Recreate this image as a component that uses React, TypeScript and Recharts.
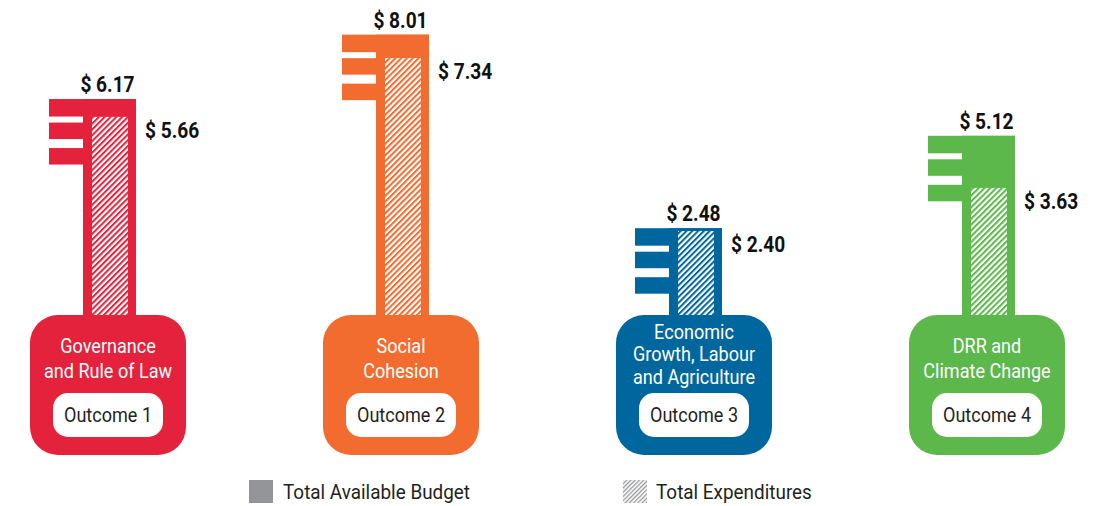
import React from 'react';
import { BarChart, Bar, XAxis, YAxis, LabelList, Legend } from 'recharts';

const outcomes = ['Outcome 1', 'Outcome 2', 'Outcome 3', 'Outcome 4'];
const themeLines = [
  ['Governance', 'and Rule of Law'],
  ['Social', 'Cohesion'],
  ['Economic', 'Growth, Labour', 'and Agriculture'],
  ['DRR and', 'Climate Change'],
];
const totalBudget = [6.17, 8.01, 2.48, 5.12];
const totalExpenditures = [5.66, 7.34, 2.4, 3.63];
const keyColors = ['#e4223c', '#f36c2f', '#00679e', '#5cb84a'];
const legendLabels = ['Total Available Budget', 'Total Expenditures'];

const data = outcomes.map((name, i) => ({
  name,
  lines: themeLines[i],
  budget: totalBudget[i],
  spent: totalExpenditures[i],
  color: keyColors[i],
}));

const FONT = 'Roboto, sans-serif';

const CText = ({ x, y, anchor = 'middle', size = 21, weight = 400, fill = '#fff', sx = 0.86, children }: any) => (
  <text
    transform={`translate(${x},${y}) scale(${sx},1)`}
    textAnchor={anchor}
    fontSize={size}
    fontWeight={weight}
    fill={fill}
    fontFamily={FONT}
  >
    {children}
  </text>
);

// solid bar drawn as a key: teeth on top, shaft, rounded head at the baseline
const KeyShape = (props: any) => {
  const { x, y, width, height, payload } = props;
  const c = payload.color;
  const base = y + height;
  const cx = x + width / 2 - 1.5;
  const toothW = 34;
  const lines: string[] = payload.lines;
  const lh = lines.length > 2 ? 22.5 : 25;
  const mid = lines.length > 2 ? 46 : 50.5;
  const first = base + mid - ((lines.length - 1) * lh) / 2;
  return (
    <g>
      <rect x={x - toothW} y={y} width={width + toothW} height={17.5} fill={c} />
      <rect x={x - toothW} y={y + 23.5} width={toothW + 1} height={16.5} fill={c} />
      <rect x={x - toothW} y={y + 49} width={toothW + 1} height={16.5} fill={c} />
      <rect x={x} y={y} width={width} height={height} fill={c} />
      <rect x={cx - 78} y={base} width={156} height={140} rx={28} fill={c} />
      {lines.map((l, i) => (
        <CText key={l} x={cx} y={first + i * lh}>{l}</CText>
      ))}
      <rect x={cx - 55} y={base + 78} width={110} height={44} rx={15} fill="#fff" />
      <CText x={cx} y={base + 107} fill="#231f20">{payload.name}</CText>
    </g>
  );
};

const HatchShape = (props: any) => {
  const { x, y, width, height, payload, index } = props;
  const id = `hatch-${index}`;
  return (
    <g>
      <defs>
        <pattern id={id} patternUnits="userSpaceOnUse" width={4.1} height={4.1} patternTransform="rotate(45)">
          <rect width={2} height={4.1} fill={payload.color} />
        </pattern>
      </defs>
      <rect x={x} y={y} width={width} height={height} fill="#fff" />
      <rect x={x} y={y} width={width} height={height} fill={`url(#${id})`} />
    </g>
  );
};

const BudgetLabel = (props: any) => {
  const { x, y, width, value } = props;
  return (
    <CText x={x + width / 2 - 2} y={y - 7} size={22} weight={700} fill="#111" sx={0.87}>
      {`$ ${Number(value).toFixed(2)}`}
    </CText>
  );
};

const SpentLabel = (props: any) => {
  const { x, y, width, value } = props;
  return (
    <CText x={x + width + 17} y={y + 21} anchor="start" size={22} weight={700} fill="#111" sx={0.87}>
      {`$ ${Number(value).toFixed(2)}`}
    </CText>
  );
};

const renderLegend = () => (
  <svg width={1099} height={30} style={{ display: 'block' }}>
    <defs>
      <pattern id="hatch-legend" patternUnits="userSpaceOnUse" width={3} height={3} patternTransform="rotate(45)">
        <rect width={1.3} height={3} fill="#939598" />
      </pattern>
    </defs>
    <rect x={249} y={2} width={24} height={23} fill="#939598" />
    <CText x={283} y={21} anchor="start" fill="#231f20" sx={0.9}>{legendLabels[0]}</CText>
    <rect x={623} y={2} width={24} height={23} fill="#fff" />
    <rect x={623} y={2} width={24} height={23} fill="url(#hatch-legend)" />
    <CText x={656} y={21} anchor="start" fill="#231f20" sx={0.9}>{legendLabels[1]}</CText>
  </svg>
);

export default function App() {
  return (
    <div style={{ width: 1099, height: 506, background: '#fff', overflow: 'hidden' }}>
      <style>{'body{margin:0}'}</style>
      <BarChart width={1099} height={506} data={data} margin={{ top: 0, right: -36, left: -37, bottom: 191 }}>
        <XAxis xAxisId="a" dataKey="name" hide />
        <XAxis xAxisId="b" dataKey="name" hide />
        <YAxis hide domain={[0, 9]} />
        <Legend
          verticalAlign="middle"
          content={renderLegend}
          wrapperStyle={{ position: 'absolute', left: 0, top: 478, width: 1099 }}
        />
        <Bar xAxisId="a" dataKey="budget" name={legendLabels[0]} barSize={53} shape={KeyShape} isAnimationActive={false}>
          <LabelList dataKey="budget" content={BudgetLabel} />
        </Bar>
        <Bar xAxisId="b" dataKey="spent" name={legendLabels[1]} barSize={36} shape={HatchShape} isAnimationActive={false}>
          <LabelList dataKey="spent" content={SpentLabel} />
        </Bar>
      </BarChart>
    </div>
  );
}
